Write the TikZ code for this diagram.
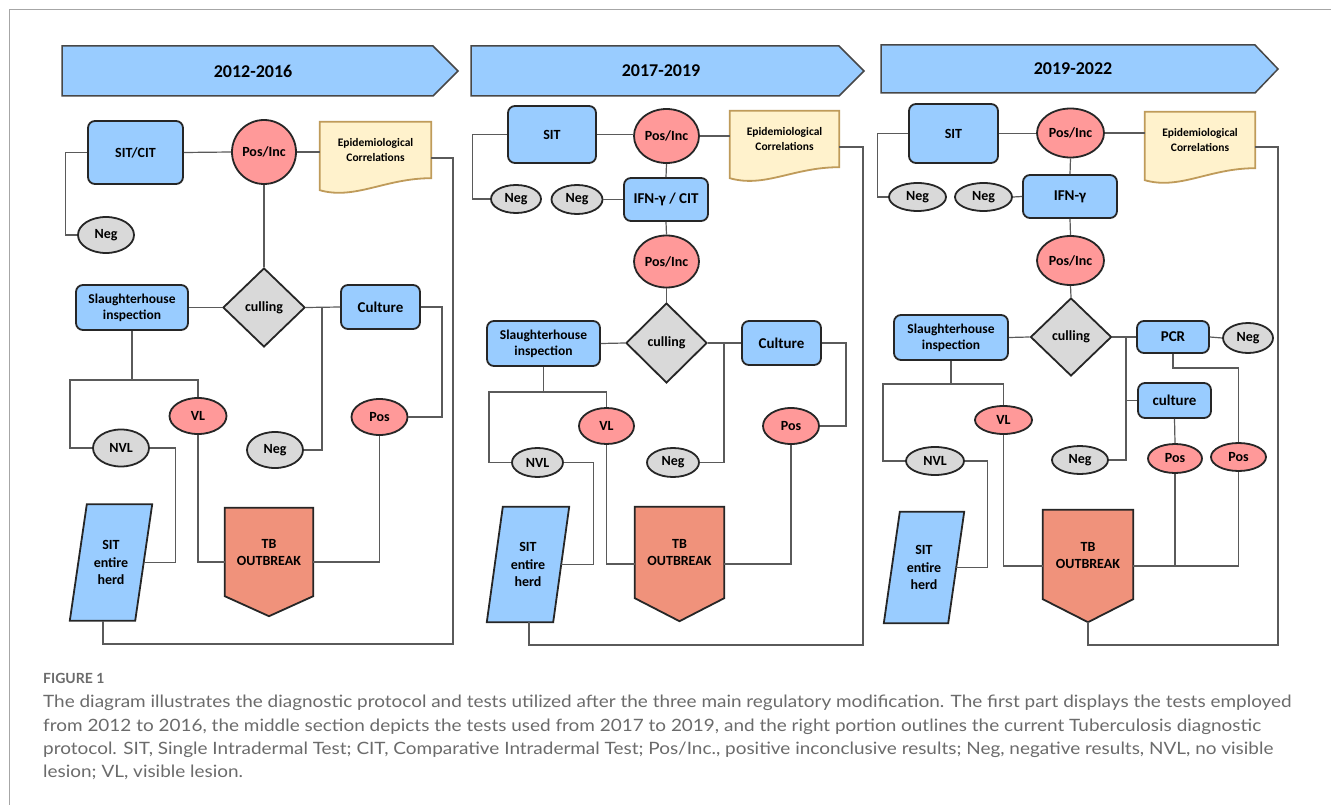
\documentclass[tikz,border=0pt]{standalone}
\usepackage{fontspec}
\setmainfont{Carlito}
\newfontfamily\capfont[FakeStretch=1.114]{Lato}
\newfontfamily\figfont{Lato}
\usetikzlibrary{shapes.geometric,calc}
\definecolor{bluef}{HTML}{99CCFF}
\definecolor{pinkf}{HTML}{FF9999}
\definecolor{grayf}{HTML}{D9D9D9}
\definecolor{tbf}{HTML}{F0927B}
\definecolor{epif}{HTML}{FFF2CC}
\definecolor{epid}{HTML}{BF9B5A}
\definecolor{bordc}{HTML}{262626}
\definecolor{linec}{HTML}{5A5A5A}
\definecolor{framec}{HTML}{A6A6A6}
\definecolor{capc}{HTML}{6B6B6B}
\newcommand\myfn{\fontsize{14}{17}\selectfont\bfseries}
\newcommand\myfb{\fontsize{15}{18}\selectfont\bfseries}
\newcommand\myfe{\fontsize{11.5}{15}\selectfont\bfseries}
\newcommand\myft{\fontsize{18}{21}\selectfont\bfseries}
\newcommand\myfs{\fontsize{13.5}{16}\selectfont\bfseries}
\newcommand\myfh{\fontsize{14}{17.5}\selectfont\bfseries}
\pgfdeclarelayer{background}
\pgfsetlayers{background,main}
\tikzset{
  conn/.style={draw=linec, line width=1.2pt},
  bbox/.style={draw=bordc, fill=bluef, rounded corners=7pt, line width=1.8pt, inner sep=0pt, align=center, font=\myfn},
  pell/.style={ellipse, draw=bordc, fill=pinkf, line width=1.8pt, inner sep=0pt, font=\myfn},
  gell/.style={ellipse, draw=bordc, fill=grayf, line width=1.8pt, inner sep=0pt, font=\myfn},
  dia/.style={diamond, draw=bordc, fill=grayf, line width=1.8pt, inner sep=0pt, font=\myfn},
  ghost/.style={draw=none, inner sep=0pt, align=center, font=\myfn},
  sz/.style 2 args={minimum width=#1pt, minimum height=#2pt},
  bannerstyle/.style={draw=bordc!85, fill=bluef, line width=1.5pt},
  epistyle/.style={draw=epid, fill=epif, line width=1.8pt},
  herdstyle/.style={draw=bordc, fill=bluef, line width=1.8pt},
  tbstyle/.style={draw=bordc, fill=tbf, line width=1.8pt},
  captext/.style={anchor=base west, inner sep=0pt, text=capc, font=\capfont\fontsize{17}{20}\selectfont},
}
\begin{document}
\begin{tikzpicture}[x=1pt,y=-1pt]
\useasboundingbox (0,0) rectangle (1331,805);
\begin{pgfonlayer}{background}
\fill[white] (0,0) rectangle (1331,805);
\end{pgfonlayer}
\draw[framec, line width=1.5pt] (9.5,805) -- (9.5,9.5) -- (1331,9.5);

% ===================== PANEL 1 =====================
\begin{pgfonlayer}{background}
\draw[bannerstyle] (62,46) -- (433,46) -- (458,71) -- (433,96) -- (62,96) -- cycle;
\end{pgfonlayer}
\node[ghost, font=\myft] (ban1) at (253,71) {2012-2016};
\node[bbox, sz={95}{63}] (sit1) at (135.5,152.5) {SIT/CIT};
\node[pell, sz={64}{64}] (pi1) at (264,152) {Pos/Inc};
\node[ghost, font=\myfe, sz={111}{56}] (epi1) at (375.5,150) {Epidemiological\\Correlations};
\node[gell, sz={56}{36}] (ng1a) at (106,235) {Neg};
\node[dia, sz={82}{79}] (cu1) at (264,307.5) {culling};
\node[bbox, font=\myfs, sz={112}{45}] (sl1) at (132,307.5) {Slaughterhouse\\inspection};
\node[bbox, font=\myfb, sz={79}{44}] (cl1) at (380.5,307) {Culture};
\node[pell, sz={57}{36}] (vl1) at (198,416) {VL};
\node[gell, sz={56}{37}] (nv1) at (121,448) {NVL};
\node[gell, sz={56}{36}] (ng1b) at (275,450) {Neg};
\node[pell, sz={56}{36}] (ps1) at (379.5,417) {Pos};
\node[ghost, font=\myfh, sz={65}{116}] (sh1) at (111,562.5) {SIT\\entire\\herd};
\node[ghost, sz={88}{108}] (tb1) at (269,562) {};
\begin{pgfonlayer}{background}
\draw[epistyle] (epi1.north west) -- (epi1.north east) -- (epi1.south east)
  .. controls ($(epi1.south east)+(-46,0)$) and ($(epi1.south west)+(35,22)$) .. ($(epi1.south west)+(0,12)$) -- cycle;
\draw[herdstyle] ($(sh1.north west)+(8.5,0)$) -- ($(sh1.north east)+(8.5,0)$) -- ($(sh1.south east)+(-8.5,0)$) -- ($(sh1.south west)+(-8.5,0)$) -- cycle;
\draw[tbstyle] (tb1.north west) -- (tb1.north east) -- ($(tb1.south east)+(0,-20)$) -- (tb1.south) -- ($(tb1.south west)+(0,-20)$) -- cycle;
\end{pgfonlayer}
\node[ghost] (tb1t) at (269,552.5) {TB\\OUTBREAK};

\draw[conn] (sit1.east) -- (pi1.west);
\draw[conn] (pi1.east) -- (pi1.east -| epi1.west);
\draw[conn] (sit1.west) -- ++(-22,0) |- (ng1a.west);
\draw[conn] (pi1.south) -- (cu1.north);
\draw[conn] (sl1.east) -- (cu1.west);
\draw[conn] (cu1.east) -- (cl1.west);
\draw[conn] (ng1b.east) -| (322,307.5);
\draw[conn] (cl1.east) -- ++(21,0) |- (ps1.east);
\draw[conn] (sl1.south) -- (132,380);
\draw[conn] (nv1.west) -| (70,380) -| (vl1.north);
\draw[conn] (nv1.east) -| ($(sh1.east)+(31.5,0)$) -- (sh1.east);
\draw[conn] (vl1.south) |- (tb1.west);
\draw[conn] (ps1.south) |- (tb1.east);
\draw[conn] ($(epi1.east)+(0,8)$) -| (453,644) -| ($(sh1.south)+(-8,0)$);

% ===================== PANEL 2 =====================
\begin{pgfonlayer}{background}
\draw[bannerstyle] (471,46) -- (839,46) -- (864,71) -- (839,96) -- (471,96) -- cycle;
\end{pgfonlayer}
\node[ghost, font=\myft] (ban2) at (661,71) {2017-2019};
\node[bbox, sz={88}{57}] (sit2) at (552,134.5) {SIT};
\node[pell, sz={65}{54}] (pi2a) at (666.5,136) {Pos/Inc};
\node[ghost, font=\myfe, sz={109}{56}] (epi2) at (784.5,139) {Epidemiological\\Correlations};
\node[gell, sz={50}{28}] (ng2a) at (516,199) {Neg};
\node[gell, sz={51}{29}] (ng2b) at (577,199.5) {Neg};
\node[bbox, font=\myfb, sz={84}{43}] (if2) at (666,199.5) {IFN-γ / CIT};
\node[pell, sz={65}{52}] (pi2b) at (666.5,261.5) {Pos/Inc};
\node[dia, sz={81}{80}] (cu2) at (666.5,343) {culling};
\node[bbox, font=\myfs, sz={113}{45}] (sl2) at (543.5,343.5) {Slaughterhouse\\inspection};
\node[bbox, font=\myfb, sz={79}{44}] (cl2) at (781.5,343) {Culture};
\node[pell, sz={55}{36}] (vl2) at (606.5,426) {VL};
\node[gell, sz={51}{29}] (nv2) at (537.5,462.5) {NVL};
\node[gell, sz={52}{29}] (ng2c) at (673,462.5) {Neg};
\node[pell, sz={56}{36}] (ps2) at (791,426) {Pos};
\node[ghost, font=\myfh, sz={66}{115}] (sh2) at (528,564.5) {SIT\\entire\\herd};
\node[ghost, sz={89}{114}] (tb2) at (679.5,564) {};
\begin{pgfonlayer}{background}
\draw[epistyle] (epi2.north west) -- (epi2.north east) -- (epi2.south east)
  .. controls ($(epi2.south east)+(-46,0)$) and ($(epi2.south west)+(35,21)$) .. ($(epi2.south west)+(0,11)$) -- cycle;
\draw[herdstyle] ($(sh2.north west)+(8,0)$) -- ($(sh2.north east)+(8,0)$) -- ($(sh2.south east)+(-8,0)$) -- ($(sh2.south west)+(-8,0)$) -- cycle;
\draw[tbstyle] (tb2.north west) -- (tb2.north east) -- ($(tb2.south east)+(0,-23)$) -- (tb2.south) -- ($(tb2.south west)+(0,-23)$) -- cycle;
\end{pgfonlayer}
\node[ghost] (tb2t) at (679.5,552.5) {TB\\OUTBREAK};

\draw[conn] (sit2.east) -- (sit2.east -| pi2a.west);
\draw[conn] (pi2a.east) -- (pi2a.east -| epi2.west);
\draw[conn] (sit2.west) -- ++(-35,0) |- (ng2a.west);
\draw[conn] (ng2b.east) -- (if2.west);
\draw[conn] (pi2a.south) -- (if2.north);
\draw[conn] (if2.south) -- (pi2b.north);
\draw[conn] (pi2b.south) -- (cu2.north);
\draw[conn] (sl2.east) -- (cu2.west);
\draw[conn] (cu2.east) -- (cl2.west);
\draw[conn] (ng2c.east) -| (724,343);
\draw[conn] (cl2.east) -- ++(24,0) |- (ps2.east);
\draw[conn] (sl2.south) -- (543.5,392);
\draw[conn] (nv2.west) -| (489,392) -| (vl2.north);
\draw[conn] (nv2.east) -| ($(sh2.east)+(32,0)$) -- (sh2.east);
\draw[conn] (vl2.south) |- (tb2.west);
\draw[conn] (ps2.south) |- (tb2.east);
\draw[conn] ($(epi2.east)+(0,8)$) -| (863,645) -| ($(sh2.south)+(1,0)$);

% ===================== PANEL 3 =====================
\begin{pgfonlayer}{background}
\draw[bannerstyle] (881,45) -- (1255,45) -- (1278,69) -- (1255,93) -- (881,93) -- cycle;
\end{pgfonlayer}
\node[ghost, font=\myft] (ban3) at (1073,69) {2019-2022};
\node[bbox, sz={89}{59}] (sit3) at (953.5,133.5) {SIT};
\node[pell, sz={67}{49}] (pi3a) at (1070.5,133) {Pos/Inc};
\node[ghost, font=\myfe, sz={110}{56}] (epi3) at (1200,140) {Epidemiological\\Correlations};
\node[gell, sz={57}{28}] (ng3a) at (917.5,197) {Neg};
\node[gell, sz={57}{28}] (ng3b) at (983.5,197) {Neg};
\node[bbox, font=\myfb, sz={94}{43}] (if3) at (1070,196.5) {IFN-γ};
\node[pell, sz={67}{49}] (pi3b) at (1070.5,260.5) {Pos/Inc};
\node[dia, sz={81}{78}] (cu3) at (1071,337) {culling};
\node[bbox, font=\myfs, sz={114}{45}] (sl3) at (951,337.5) {Slaughterhouse\\inspection};
\node[bbox, font=\myfb, sz={72}{32}] (pc3) at (1173,337) {PCR};
\node[gell, sz={50}{30}] (ng3c) at (1248,338) {Neg};
\node[bbox, font=\myfb, sz={73}{35}] (cl3) at (1174.5,400.5) {culture};
\node[pell, sz={54}{29}] (ps3a) at (1175,458.5) {Pos};
\node[pell, sz={55}{28}] (ps3b) at (1238.5,457) {Pos};
\node[gell, sz={56}{28}] (ng3d) at (1080,460) {Neg};
\node[pell, sz={57}{28}] (vl3) at (1003.5,420) {VL};
\node[gell, sz={58}{28}] (nv3) at (935,461) {NVL};
\node[ghost, font=\myfh, sz={64}{111}] (sh3) at (924,567.5) {SIT\\entire\\herd};
\node[ghost, sz={90}{112}] (tb3) at (1088,566) {};
\begin{pgfonlayer}{background}
\draw[epistyle] (epi3.north west) -- (epi3.north east) -- (epi3.south east)
  .. controls ($(epi3.south east)+(-46,0)$) and ($(epi3.south west)+(35,22)$) .. ($(epi3.south west)+(0,12)$) -- cycle;
\draw[herdstyle] ($(sh3.north west)+(8,0)$) -- ($(sh3.north east)+(8,0)$) -- ($(sh3.south east)+(-8,0)$) -- ($(sh3.south west)+(-8,0)$) -- cycle;
\draw[tbstyle] (tb3.north west) -- (tb3.north east) -- ($(tb3.south east)+(0,-23)$) -- (tb3.south) -- ($(tb3.south west)+(0,-23)$) -- cycle;
\end{pgfonlayer}
\node[ghost] (tb3t) at (1088,555.5) {TB\\OUTBREAK};

\draw[conn] (sit3.east) -- (sit3.east -| pi3a.west);
\draw[conn] (pi3a.east) -- (pi3a.east -| epi3.west);
\draw[conn] (sit3.west) -- ++(-31,0) |- (ng3a.west);
\draw[conn] (ng3b.east) -- (if3.west);
\draw[conn] (pi3a.south) -- (if3.north);
\draw[conn] (if3.south) -- (pi3b.north);
\draw[conn] (pi3b.south) -- (cu3.north);
\draw[conn] (sl3.east) -- (cu3.west);
\draw[conn] (cu3.east) -- (pc3.west);
\draw[conn] (pc3.east) -- (ng3c.west);
\draw[conn] (ng3d.east) -| (1126,337);
\draw[conn] (cl3.west) -- (cl3.west -| 1126,0);
\draw[conn] (pc3.south) -- ++(0,14) -| (ps3b.north);
\draw[conn] (cl3.south) -- (ps3a.north);
\draw[conn] (ps3a.south) |- (tb3.east);
\draw[conn] (ps3b.south) |- (tb3.east);
\draw[conn] (sl3.south) -- (951,384);
\draw[conn] (nv3.west) -| (883,384) -| (vl3.north);
\draw[conn] (nv3.east) -| ($(sh3.east)+(31,0)$) -- (sh3.east);
\draw[conn] (vl3.south) |- (tb3.west);
\draw[conn] ($(epi3.east)+(0,7)$) -| (1278,645) -| (tb3.south);

% ===================== CAPTION =====================
\node[captext, font=\figfont\fontsize{14}{17}\selectfont\bfseries] (capfig) at (43,683) {FIGURE 1};
\node[captext] (cap1) at (43,707) {The diagram illustrates the diagnostic protocol and tests utilized after the three main regulatory modification. The first part displays the tests employed};
\node[captext] (cap2) at (43,731) {from 2012 to 2016, the middle section depicts the tests used from 2017 to 2019, and the right portion outlines the current Tuberculosis diagnostic};
\node[captext] (cap3) at (43,754) {protocol. SIT, Single Intradermal Test; CIT, Comparative Intradermal Test; Pos/Inc., positive inconclusive results; Neg, negative results, NVL, no visible};
\node[captext] (cap4) at (43,777) {lesion; VL, visible lesion.};
\end{tikzpicture}
\end{document}
